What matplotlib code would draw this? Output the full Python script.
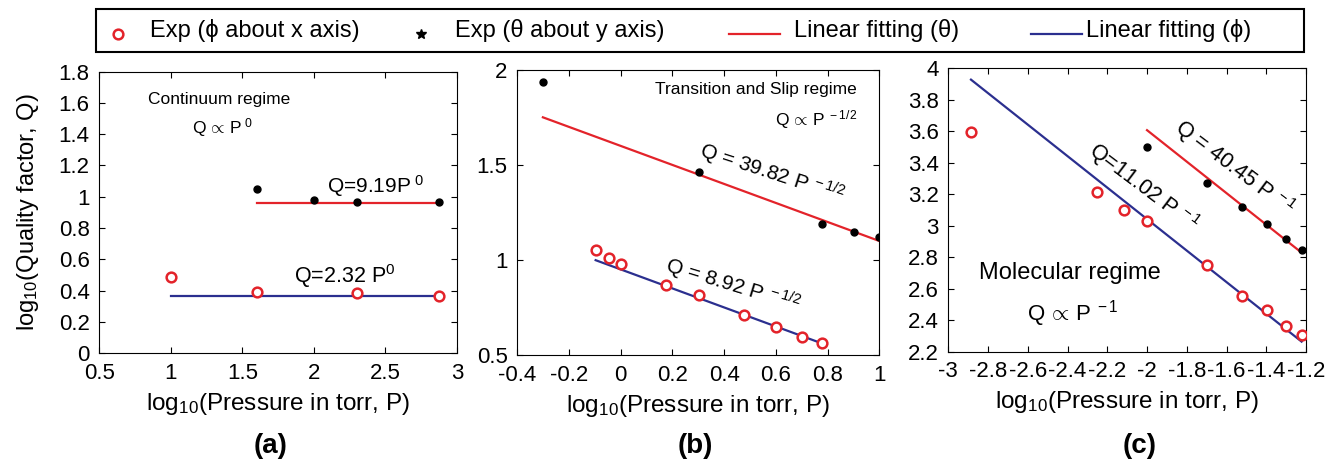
import matplotlib
matplotlib.use('Agg')
import matplotlib.pyplot as plt
from matplotlib.ticker import FormatStrFormatter, MultipleLocator
from matplotlib.lines import Line2D
from matplotlib.patches import Rectangle

plt.rcParams['font.family'] = ['Liberation Sans', 'DejaVu Sans']
plt.rcParams['mathtext.fontset'] = 'custom'
plt.rcParams['mathtext.rm'] = 'Liberation Sans'
plt.rcParams['mathtext.it'] = 'Liberation Sans'
plt.rcParams['axes.unicode_minus'] = False

RED = '#e3232a'
BLUE = '#2b2f8f'
W, H = 1337, 459

# (a) continuum regime
a_theta_x = [1.602, 2.0, 2.301, 2.875]
a_theta_y = [1.048, 0.978, 0.969, 0.965]
a_phi_x = [1.0, 1.602, 2.301, 2.875]
a_phi_y = [0.486, 0.390, 0.381, 0.366]
a_fit_theta_x = [1.602, 2.875]
a_fit_theta_y = [0.963, 0.963]
a_fit_phi_x = [1.0, 2.875]
a_fit_phi_y = [0.366, 0.366]

# (b) transition and slip regime
b_theta_x = [-0.301, 0.301, 0.778, 0.903, 1.0]
b_theta_y = [1.935, 1.463, 1.191, 1.147, 1.119]
b_phi_x = [-0.097, -0.046, 0.0, 0.176, 0.301, 0.477, 0.602, 0.699, 0.778]
b_phi_y = [1.053, 1.011, 0.977, 0.870, 0.816, 0.709, 0.646, 0.593, 0.561]
b_fit_theta_x = [-0.301, 1.0]
b_fit_theta_y = [1.751, 1.100]
b_fit_phi_x = [-0.097, 0.778]
b_fit_phi_y = [0.999, 0.561]

# (c) molecular regime
c_theta_x = [-2.0, -1.699, -1.523, -1.398, -1.301, -1.222]
c_theta_y = [3.498, 3.274, 3.119, 3.011, 2.914, 2.844]
c_phi_x = [-2.886, -2.252, -2.114, -2.0, -1.699, -1.523, -1.398, -1.301, -1.222]
c_phi_y = [3.593, 3.217, 3.100, 3.030, 2.749, 2.554, 2.463, 2.365, 2.304]
c_fit_theta_x = [-2.0, -1.222]
c_fit_theta_y = [3.607, 2.829]
c_fit_phi_x = [-2.886, -1.222]
c_fit_phi_y = [3.928, 2.264]

legend_labels = ['Exp (ϕ about x axis)', 'Exp (θ about y axis)',
                 'Linear fitting (θ)', 'Linear fitting (ϕ)']

fig = plt.figure(figsize=(W / 100, H / 100), dpi=100)
axa = fig.add_axes([0.0743, 0.2309, 0.2675, 0.6129])
axb = fig.add_axes([0.3869, 0.2266, 0.2708, 0.6209])
axc = fig.add_axes([0.7093, 0.2338, 0.2675, 0.6174])


def draw(ax, tx, ty, px, py, ftx, fty, fpx, fpy):
    ax.plot(ftx, fty, color=RED, lw=1.6)
    ax.plot(fpx, fpy, color=BLUE, lw=1.6)
    ax.plot(tx, ty, 'o', color='black', ms=5, zorder=3)
    ax.plot(px, py, 'o', mfc='white', mec=RED, mew=1.8, ms=7, zorder=3)
    ax.tick_params(direction='in', top=True, right=True, labelsize=16,
                   length=4, pad=7)
    ax.xaxis.set_major_formatter(FormatStrFormatter('%g'))
    ax.yaxis.set_major_formatter(FormatStrFormatter('%g'))
    ax.set_xlabel(r'log$_{10}$(Pressure in torr, P)', fontsize=17.5,
                  labelpad=5)


draw(axa, a_theta_x, a_theta_y, a_phi_x, a_phi_y,
     a_fit_theta_x, a_fit_theta_y, a_fit_phi_x, a_fit_phi_y)
axa.set_xlim(0.5, 3)
axa.set_ylim(0, 1.8)
axa.xaxis.set_major_locator(MultipleLocator(0.5))
axa.yaxis.set_major_locator(MultipleLocator(0.2))
axa.set_ylabel(r'log$_{10}$(Quality factor, Q)', fontsize=17, labelpad=13)
axa.text(0.842, 1.62, 'Continuum regime', fontsize=12.5, va='center')
axa.text(1.145, 1.445, r'Q$\,\propto\,$P$^{\ 0}$', fontsize=12.5, va='center')
axa.text(2.09, 1.025, r'Q=9.19P$^{\ 0}$', fontsize=15, va='baseline')
axa.text(1.86, 0.45, r'Q=2.32 P$^{0}$', fontsize=15.5, va='baseline')

draw(axb, b_theta_x, b_theta_y, b_phi_x, b_phi_y,
     b_fit_theta_x, b_fit_theta_y, b_fit_phi_x, b_fit_phi_y)
axb.set_xlim(-0.4, 1)
axb.set_ylim(0.5, 2)
axb.xaxis.set_major_locator(MultipleLocator(0.2))
axb.yaxis.set_major_locator(MultipleLocator(0.5))
axb.text(0.132, 1.895, 'Transition and Slip regime', fontsize=12.5, va='center')
axb.text(0.597, 1.737, r'Q$\,\propto\,$P$^{\ -1/2}$', fontsize=12.5, va='center')
axb.text(0.30, 1.545, r'Q = 39.82 P$^{\ -1/2}$', fontsize=15, rotation=-18,
         rotation_mode='anchor', va='baseline')
axb.text(0.165, 0.94, r'Q = 8.92 P$^{\ -1/2}$', fontsize=15, rotation=-17,
         rotation_mode='anchor', va='baseline')

draw(axc, c_theta_x, c_theta_y, c_phi_x, c_phi_y,
     c_fit_theta_x, c_fit_theta_y, c_fit_phi_x, c_fit_phi_y)
axc.set_xlim(-3, -1.2)
axc.set_ylim(2.2, 4)
axc.xaxis.set_major_locator(MultipleLocator(0.2))
axc.yaxis.set_major_locator(MultipleLocator(0.2))
axc.text(-2.844, 2.698, 'Molecular regime', fontsize=17, va='center')
axc.text(-2.606, 2.444, r'Q$\,\propto\,$P$^{\ -1}$', fontsize=16, va='center')
axc.text(-2.30, 3.46, r'Q=11.02 P$^{\ -1}$', fontsize=15.5, rotation=-37,
         rotation_mode='anchor', va='baseline')
axc.text(-1.867, 3.607, r'Q = 40.45 P$^{\ -1}$', fontsize=15.5, rotation=-37,
         rotation_mode='anchor', va='baseline')

for x, lab in [(271, '(a)'), (695, '(b)'), (1140, '(c)')]:
    fig.text(x / W, 1 - 446 / H, lab, fontsize=20, fontweight='bold',
             ha='center', va='center')

# legend box drawn by hand so each entry sits where the original has it
fig.add_artist(Rectangle((96 / W, 1 - 52 / H), 1208 / W, 43 / H,
                         transform=fig.transFigure, fill=False,
                         edgecolor='black', lw=1.5))
ty = 1 - 30 / H
my = 1 - 34 / H
fig.add_artist(Line2D([118 / W], [my], marker='o', mfc='white', mec=RED,
                      mew=1.8, ms=7, transform=fig.transFigure))
fig.add_artist(Line2D([421 / W], [my], marker='*', color='black', ms=7,
                      transform=fig.transFigure))
fig.add_artist(Line2D([729 / W, 780 / W], [my, my], color=RED, lw=1.6,
                      transform=fig.transFigure))
fig.add_artist(Line2D([1031 / W, 1082 / W], [my, my], color=BLUE, lw=1.6,
                      transform=fig.transFigure))
for x, lab in zip([150, 455, 794, 1086], legend_labels):
    fig.text(x / W, ty, lab, fontsize=17, va='center', ha='left')

fig.savefig('out.png', dpi=100)
